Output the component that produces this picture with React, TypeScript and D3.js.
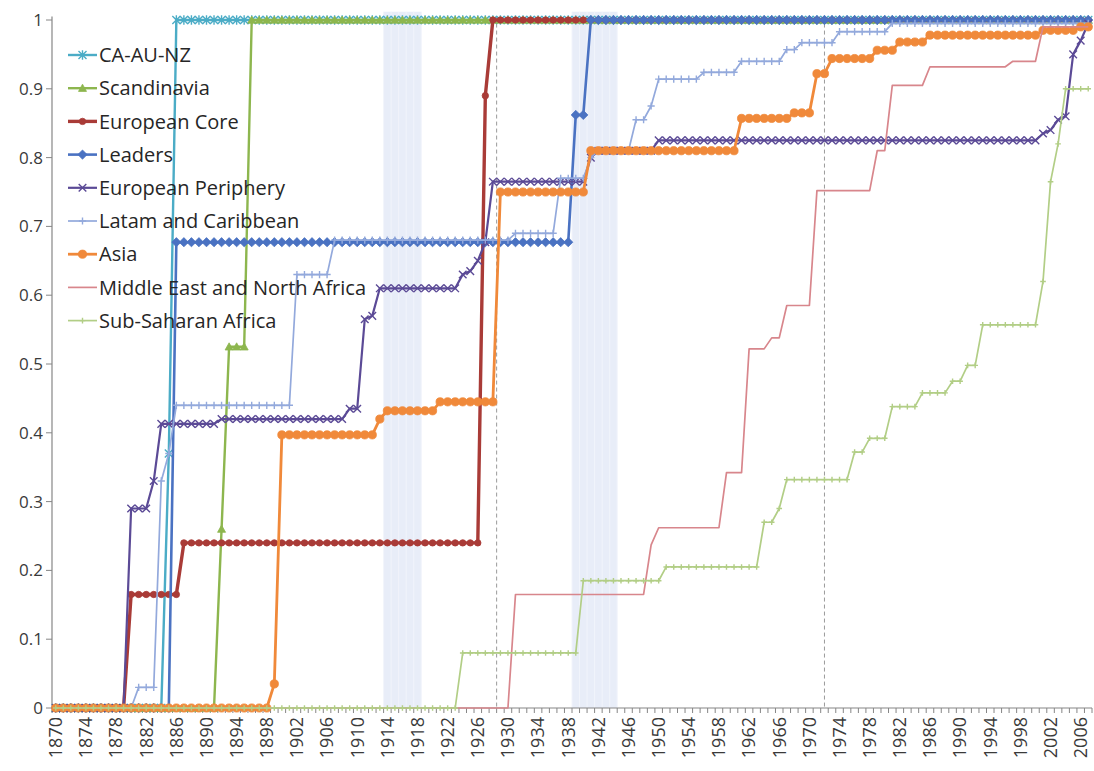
import React from 'react';
import * as d3 from 'd3';

// ---------- DATA (step change points: [year, value from this year on]) ----------
const firstYear = 1870;
const lastYear = 2007;
const tickYears = [1870,1874,1878,1882,1886,1890,1894,1898,1902,1906,1910,1914,1918,1922,1926,1930,1934,1938,1942,1946,1950,1954,1958,1962,1966,1970,1974,1978,1982,1986,1990,1994,1998,2002,2006];
const yTicks = [0,0.1,0.2,0.3,0.4,0.5,0.6,0.7,0.8,0.9,1];

const caAuNz: [number, number][] = [[1870,0],[1885,0.37],[1886,1]];
const scandinavia: [number, number][] = [[1870,0],[1892,0.26],[1893,0.525],[1896,1]];
const europeanCore: [number, number][] = [[1870,0],[1880,0.165],[1887,0.24],[1927,0.89],[1928,1]];
const leaders: [number, number][] = [[1870,0],[1886,0.677],[1939,0.862],[1941,1]];
const europeanPeriphery: [number, number][] = [[1870,0],[1880,0.29],[1883,0.33],[1884,0.413],[1892,0.42],[1909,0.435],[1911,0.565],[1912,0.57],[1913,0.61],[1924,0.63],[1925,0.635],[1926,0.65],[1927,0.677],[1928,0.765],[1941,0.8],[1942,0.81],[1950,0.825],[2001,0.835],[2002,0.84],[2003,0.855],[2004,0.86],[2005,0.95],[2006,0.97],[2007,0.995]];
const latam: [number, number][] = [[1870,0],[1881,0.03],[1884,0.33],[1885,0.37],[1886,0.44],[1902,0.63],[1907,0.68],[1931,0.69],[1937,0.77],[1941,0.8],[1942,0.81],[1947,0.855],[1949,0.875],[1950,0.914],[1956,0.924],[1961,0.94],[1967,0.957],[1969,0.967],[1974,0.983],[1981,0.995]];
const asia: [number, number][] = [[1870,0],[1899,0.035],[1900,0.397],[1913,0.42],[1914,0.432],[1921,0.445],[1929,0.75],[1941,0.81],[1961,0.857],[1968,0.865],[1971,0.922],[1973,0.944],[1979,0.956],[1982,0.968],[1986,0.978],[2001,0.985],[2006,0.99]];
const mena: [number, number][] = [[1870,0],[1931,0.165],[1949,0.237],[1950,0.262],[1959,0.342],[1962,0.522],[1965,0.538],[1967,0.585],[1971,0.752],[1979,0.81],[1981,0.905],[1986,0.932],[1997,0.94],[2001,0.99]];
const ssa: [number, number][] = [[1870,0],[1924,0.08],[1940,0.185],[1951,0.205],[1964,0.27],[1966,0.29],[1967,0.332],[1976,0.372],[1978,0.392],[1981,0.438],[1985,0.458],[1989,0.475],[1991,0.498],[1993,0.557],[2001,0.62],[2002,0.765],[2003,0.82],[2004,0.9]];

const warBands: [number, number][] = [[1914,1918],[1939,1944]];
const dashedYears = [1928.5, 1972];

type Marker = 'star' | 'triangle' | 'circle' | 'diamond' | 'x' | 'plus' | 'none';
interface Series { name: string; steps: [number, number][]; color: string; width: number; marker: Marker; ms: number; }

const seriesList: Series[] = [
  { name: 'CA-AU-NZ', steps: caAuNz, color: '#4BACC6', width: 2.4, marker: 'star', ms: 4 },
  { name: 'Scandinavia', steps: scandinavia, color: '#8DB64E', width: 2.4, marker: 'triangle', ms: 4 },
  { name: 'European Core', steps: europeanCore, color: '#A93B37', width: 3.4, marker: 'circle', ms: 3.2 },
  { name: 'Leaders', steps: leaders, color: '#4A72C2', width: 2.6, marker: 'diamond', ms: 4.6 },
  { name: 'European Periphery', steps: europeanPeriphery, color: '#5B4A96', width: 2.2, marker: 'x', ms: 3.8 },
  { name: 'Latam and Caribbean', steps: latam, color: '#93A9DC', width: 1.7, marker: 'plus', ms: 3.6 },
  { name: 'Asia', steps: asia, color: '#F0893A', width: 2.8, marker: 'circle', ms: 4.1 },
  { name: 'Middle East and North Africa', steps: mena, color: '#D8868C', width: 1.7, marker: 'none', ms: 0 },
  { name: 'Sub-Saharan Africa', steps: ssa, color: '#B2CE86', width: 1.7, marker: 'plus', ms: 2.8 },
];

// ---------- LAYOUT ----------
const W = 1094, H = 771;
const left = 52, right = 1092, top = 20, bottom = 708;
const FONT = "'Open Sans', 'Liberation Sans', sans-serif";

const years = d3.range(firstYear, lastYear + 1);
const x = d3.scaleLinear().domain([firstYear - 0.5, lastYear + 0.5]).range([left, right]);
const y = d3.scaleLinear().domain([0, 1]).range([bottom, top]);

function expand(steps: [number, number][]) {
  return years.map((yr) => {
    let v = steps[0][1];
    for (const [sy, sv] of steps) if (sy <= yr) v = sv;
    return [yr, v] as [number, number];
  });
}

function markerPath(m: Marker, s: number): string {
  switch (m) {
    case 'star': return `M${-s},${-s}L${s},${s}M${-s},${s}L${s},${-s}M0,${-s * 1.2}L0,${s * 1.2}`;
    case 'triangle': return `M0,${-s}L${s},${s * 0.8}L${-s},${s * 0.8}Z`;
    case 'circle': return d3.arc()({ innerRadius: 0, outerRadius: s, startAngle: 0, endAngle: 2 * Math.PI }) as string;
    case 'diamond': return `M0,${-s}L${s},0L0,${s}L${-s},0Z`;
    case 'x': return `M${-s},${-s}L${s},${s}M${-s},${s}L${s},${-s}`;
    case 'plus': return `M${-s},0L${s},0M0,${-s}L0,${s}`;
    default: return '';
  }
}
const filled = (m: Marker) => m === 'triangle' || m === 'circle' || m === 'diamond';

const lineGen = d3.line<[number, number]>().x((d) => x(d[0])).y((d) => y(d[1]));

export default function App() {
  return (
    <svg width={W} height={H} style={{ position: 'absolute', left: 0, top: 0, background: '#fff' }} fontFamily={FONT}>
      <rect width={W} height={H} fill="#fff" />
      {/* war bands */}
      {warBands.map(([a, b], i) => (
        <g key={i}>
          <rect x={x(a - 0.5)} width={x(b + 0.5) - x(a - 0.5)} y={y(1.012)} height={y(0) - y(1.012)} fill="#e8edf8" />
          {d3.range(a, b + 2).map((yr) => (
            <line key={yr} x1={x(yr - 0.5)} x2={x(yr - 0.5)} y1={y(1.012)} y2={y(0)} stroke="#f1f4fb" strokeWidth={1} />
          ))}
        </g>
      ))}
      {/* dashed vertical lines */}
      {dashedYears.map((yr) => (
        <line key={yr} x1={x(yr)} x2={x(yr)} y1={y(1.005)} y2={y(0)} stroke="#9a9a9a" strokeWidth={1} strokeDasharray="4,3" />
      ))}
      {/* axes */}
      <line x1={left} x2={left} y1={y(1.005)} y2={bottom} stroke="#868686" strokeWidth={1.2} />
      <line x1={left} x2={right} y1={bottom} y2={bottom} stroke="#868686" strokeWidth={1.2} />
      {yTicks.map((t) => (
        <g key={t}>
          <line x1={left - 6} x2={left} y1={y(t)} y2={y(t)} stroke="#868686" />
          <text x={left - 9} y={y(t)} dy="0.35em" textAnchor="end" fontSize={17} fill="#3a3a3a">{d3.format('~g')(t)}</text>
        </g>
      ))}
      {d3.range(firstYear, lastYear + 2).map((yr) => (
        <line key={yr} x1={x(yr - 0.5)} x2={x(yr - 0.5)} y1={bottom} y2={bottom + 5} stroke="#868686" />
      ))}
      {tickYears.map((yr) => (
        <text key={yr} transform={`translate(${x(yr)},${bottom + 9}) rotate(-90)`} textAnchor="end" dy="0.35em" fontSize={18} fill="#3a3a3a">{yr}</text>
      ))}
      {/* series */}
      {seriesList.map((s) => {
        const pts = expand(s.steps);
        const mp = markerPath(s.marker, s.ms);
        return (
          <g key={s.name}>
            <path d={lineGen(pts) as string} fill="none" stroke={s.color} strokeWidth={s.width} strokeLinejoin="round" />
            {s.marker !== 'none' && pts.map(([yr, v]) => (
              <path key={yr} d={mp} transform={`translate(${x(yr)},${y(v)})`} fill={filled(s.marker) ? s.color : 'none'} stroke={s.color} strokeWidth={filled(s.marker) ? 0.8 : 1.4} />
            ))}
          </g>
        );
      })}
      {/* legend */}
      {seriesList.map((s, i) => {
        const cy = 55 + i * 33.2;
        return (
          <g key={s.name}>
            <line x1={68} x2={97} y1={cy} y2={cy} stroke={s.color} strokeWidth={s.width} />
            {s.marker !== 'none' && (
              <path d={markerPath(s.marker, s.ms)} transform={`translate(82.5,${cy})`} fill={filled(s.marker) ? s.color : 'none'} stroke={s.color} strokeWidth={filled(s.marker) ? 0.8 : 1.4} />
            )}
            <text x={99} y={cy} dy="0.36em" fontSize={20} fill="#262626">{s.name}</text>
          </g>
        );
      })}
    </svg>
  );
}
